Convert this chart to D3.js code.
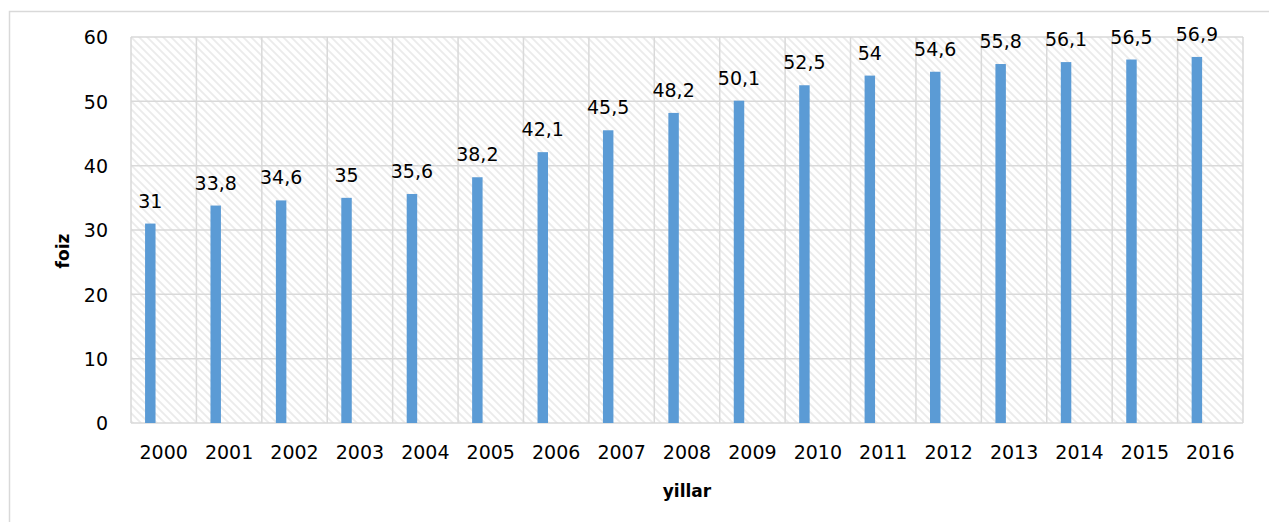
<!DOCTYPE html>
<html>
<head>
<meta charset="utf-8">
<script src="https://cdn.jsdelivr.net/npm/d3@7"></script>
<style>
  body { margin: 0; background: #fff; }
  text { font-family: "DejaVu Sans", sans-serif; fill: #000; }
</style>
</head>
<body>
<div id="chart-area"></div>
<script>

var years = ["2000","2001","2002","2003","2004","2005","2006","2007","2008",
             "2009","2010","2011","2012","2013","2014","2015","2016"];
var values = [31, 33.8, 34.6, 35, 35.6, 38.2, 42.1, 45.5, 48.2,
              50.1, 52.5, 54, 54.6, 55.8, 56.1, 56.5, 56.9];
var yTicks = [0, 10, 20, 30, 40, 50, 60];

var margin = { left:131, right:26, top:37, bottom:99 },
    width = 1269 - margin.left - margin.right,
    height = 522 - margin.top - margin.bottom;

var svg = d3.select("#chart-area")
    .append("svg")
    .attr("width", 1269)
    .attr("height", 522);

// hatch pattern for the plot area
var pat = svg.append("defs").append("pattern")
    .attr("id", "hatch")
    .attr("patternUnits", "userSpaceOnUse")
    .attr("width", 8)
    .attr("height", 8);
pat.append("rect").attr("width", 8).attr("height", 8).attr("fill", "#fff");
pat.append("path")
    .attr("d", "M-2,-2 L10,10 M-2,6 L2,10 M6,-2 L10,2")
    .attr("stroke", "#ebebeb")
    .attr("stroke-width", 1.8);

// outer chart border
svg.append("path")
    .attr("d", "M9.5,530 L9.5,11.5 L1280,11.5")
    .attr("fill", "none")
    .attr("stroke", "#d9d9d9")
    .attr("stroke-width", 1.5);

var g = svg.append("g")
    .attr("transform", "translate(" + margin.left + "," + margin.top + ")");

var x = d3.scaleBand()
    .domain(years)
    .range([0, width])
    .paddingInner(0)
    .paddingOuter(0);

var y = d3.scaleLinear()
    .domain([0, 60])
    .range([height, 0]);

g.append("rect")
    .attr("width", width)
    .attr("height", height)
    .attr("fill", "url(#hatch)");

// grid lines
g.selectAll(".hgrid")
    .data(yTicks)
    .enter()
    .append("line")
    .attr("x1", 0)
    .attr("x2", width)
    .attr("y1", function(d){ return y(d); })
    .attr("y2", function(d){ return y(d); })
    .attr("stroke", "#d9d9d9")
    .attr("stroke-width", 1.5);

g.selectAll(".vgrid")
    .data(years.concat(["end"]))
    .enter()
    .append("line")
    .attr("x1", function(d, i){ return i * x.step(); })
    .attr("x2", function(d, i){ return i * x.step(); })
    .attr("y1", 0)
    .attr("y2", height)
    .attr("stroke", "#d9d9d9")
    .attr("stroke-width", 1.5);

// y axis labels
var yAxisCall = d3.axisLeft(y).tickValues(yTicks).tickSize(0).tickPadding(23);
var yAxis = g.append("g").attr("class", "y axis").call(yAxisCall);
yAxis.select(".domain").remove();
yAxis.selectAll("text").attr("font-size", "19px").attr("dy", "0.36em")
    .style("font-family", "DejaVu Sans");

// x axis labels
var xAxisCall = d3.axisBottom(x).tickSize(0).tickPadding(23);
var xAxis = g.append("g")
    .attr("class", "x axis")
    .attr("transform", "translate(0," + height + ")")
    .call(xAxisCall);
xAxis.select(".domain").remove();
xAxis.selectAll("text").attr("font-size", "19px")
    .style("font-family", "DejaVu Sans");

// bars
var barOff = 0.215, barW = 0.16;
g.selectAll(".bar")
    .data(values)
    .enter()
    .append("rect")
    .attr("class", "bar")
    .attr("x", function(d, i){ return x(years[i]) + x.bandwidth() * barOff; })
    .attr("y", function(d){ return y(d); })
    .attr("width", x.bandwidth() * barW)
    .attr("height", function(d){ return height - y(d); })
    .style("fill", "#5b9bd5");

// value labels
g.selectAll(".val")
    .data(values)
    .enter()
    .append("text")
    .attr("class", "val")
    .attr("x", function(d, i){ return x(years[i]) + x.bandwidth() * (barOff + barW / 2); })
    .attr("y", function(d){ return y(d) - 16; })
    .attr("text-anchor", "middle")
    .attr("font-size", "19px")
    .text(function(d){ return String(d).replace(".", ","); });

// axis titles
g.append("text")
    .attr("x", width / 2)
    .attr("y", height + 74)
    .attr("text-anchor", "middle")
    .attr("font-size", "17px")
    .attr("font-weight", "bold")
    .text("yillar");

g.append("text")
    .attr("x", -(251 - margin.top))
    .attr("y", -62)
    .attr("transform", "rotate(-90)")
    .attr("text-anchor", "middle")
    .attr("font-size", "17px")
    .attr("font-weight", "bold")
    .text("foiz");

</script>
</body>
</html>
